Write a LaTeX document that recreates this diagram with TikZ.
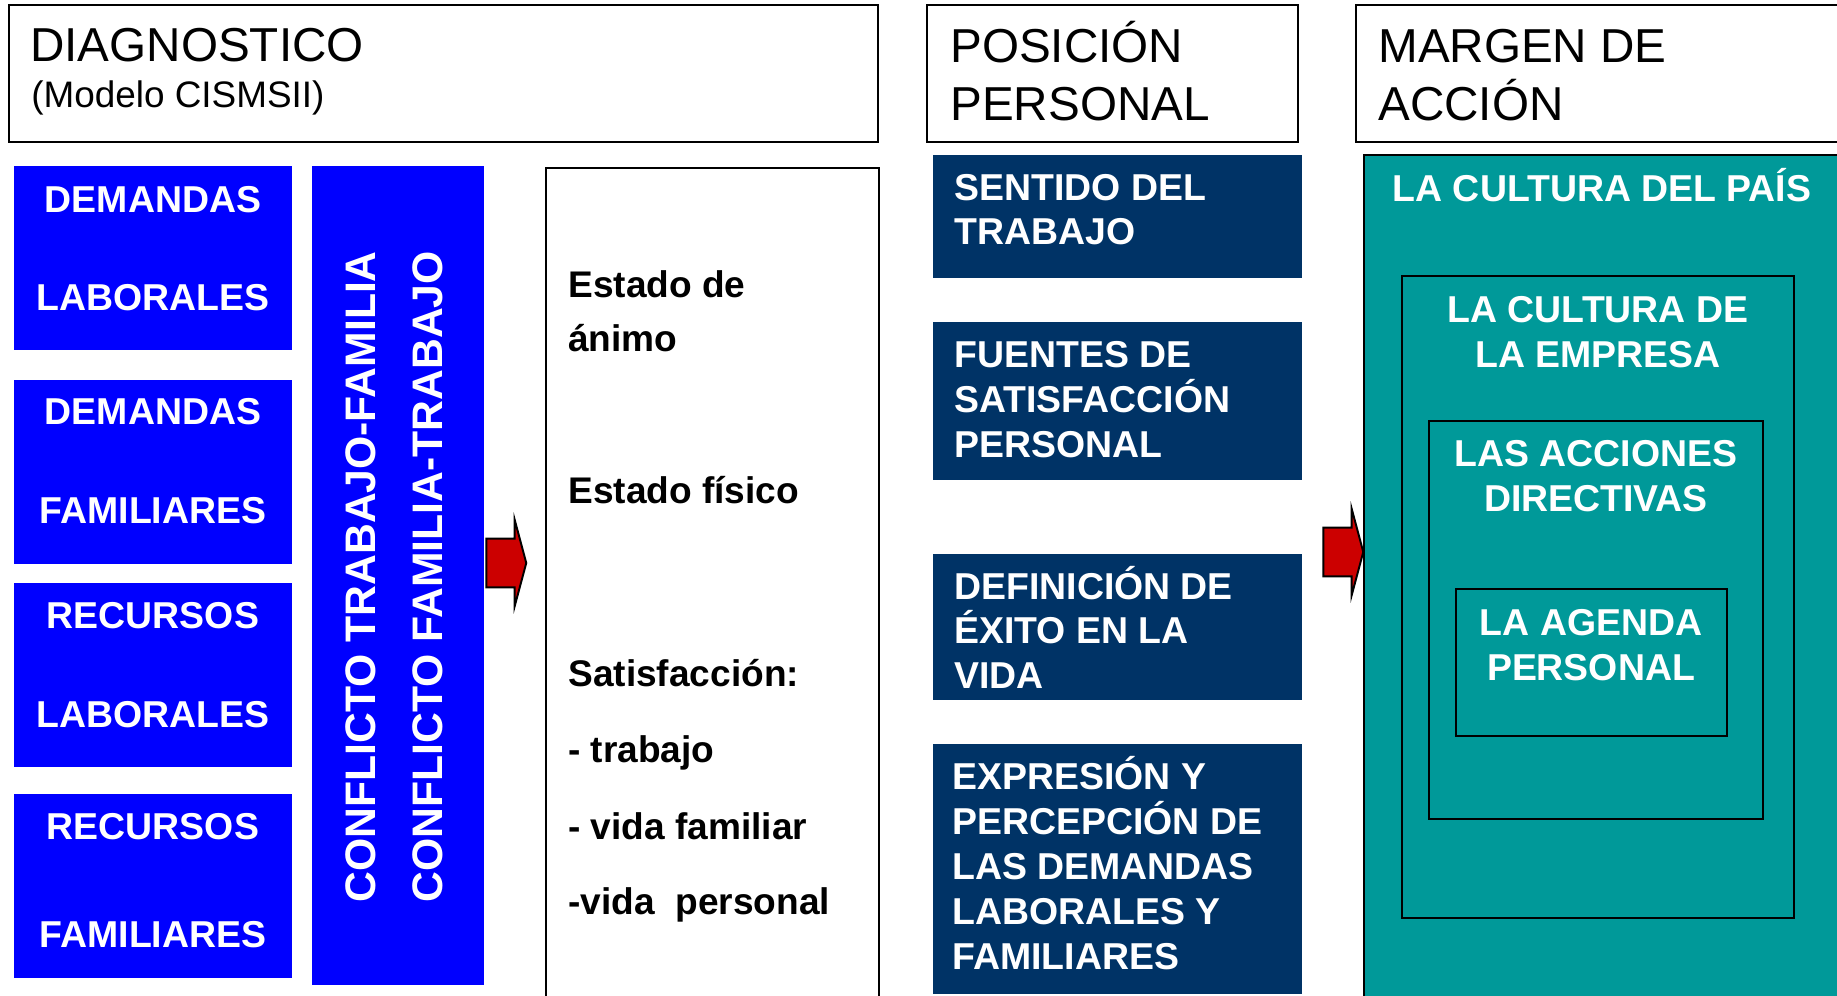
\documentclass[tikz,border=0pt]{standalone}
\usepackage{fontspec}
\setmainfont{Liberation Sans}
\usetikzlibrary{fit,shapes.arrows}
\definecolor{navy}{RGB}{0,51,102}
\definecolor{tealbg}{RGB}{0,153,153}
\definecolor{arrred}{RGB}{204,0,0}
\begin{document}
\begin{tikzpicture}[x=0.02cm, y=-0.02cm,
  head/.style = {draw, line width=1pt, inner sep=0},
  hd/.style = {font=\fontsize{27.1}{32}\selectfont, anchor=base west, inner sep=0},
  sub/.style = {font=\fontsize{21}{25}\selectfont, anchor=base west, inner sep=0},
  bluebox/.style = {fill=blue, inner sep=0},
  navybox/.style = {fill=navy, inner sep=0},
  frame/.style = {draw, line width=1pt, inner sep=0},
  wt/.style = {text=white, font=\bfseries\fontsize{21.3}{25}\selectfont, inner sep=0},
  bt/.style = {font=\bfseries\fontsize{21.1}{25}\selectfont, anchor=base west, inner sep=0},
  conf/.style = {text=white, font=\bfseries\fontsize{24.3}{29}\selectfont, rotate=90, anchor=base west, inner sep=0},
  bigarrow/.style = {shape=single arrow, fill=arrred, draw=black, line width=1.1pt, inner xsep=0, inner ysep=0.47cm,
    minimum height=0.8cm, single arrow head extend=0.38cm, single arrow tip angle=150}]
\clip (0,0) rectangle (1837,996);
\useasboundingbox (0,0) rectangle (1837,996);

% headers
\node[head, fit={(9,5) (878,142)}] (diag) {};
\node[head, fit={(927,5) (1298,142)}] (pos) {};
\node[head, fit={(1356,5) (1850,142)}] (marg) {};
\node[hd] (diag1) at (30,62) {DIAGNOSTICO};
\node[sub] (diag2) at (31,108) {(Modelo CISMSII)};
\node[hd] (pos1) at (950,63) {POSICIÓN};
\node[hd] (pos2) at (950,121) {PERSONAL};
\node[hd] (marg1) at (1378,63) {MARGEN DE};
\node[hd] (marg2) at (1378,121) {ACCIÓN};

% column 1: demandas y recursos
\node[bluebox, fit={(14,166) (292,350)}] (dl) {};
\node[bluebox, fit={(14,380) (292,564)}] (df) {};
\node[bluebox, fit={(14,583) (292,767)}] (rl) {};
\node[bluebox, fit={(14,794) (292,978)}] (rf) {};
\node[wt, anchor=base] (dl1) at (153,213) {DEMANDAS};
\node[wt, anchor=base] (dl2) at (153,311) {LABORALES};
\node[wt, anchor=base] (df1) at (153,425) {DEMANDAS};
\node[wt, anchor=base] (df2) at (153,524) {FAMILIARES};
\node[wt, anchor=base] (rl1) at (153,629) {RECURSOS};
\node[wt, anchor=base] (rl2) at (153,728) {LABORALES};
\node[wt, anchor=base] (rf1) at (153,840) {RECURSOS};
\node[wt, anchor=base] (rf2) at (153,947) {FAMILIARES};

% conflicto
\node[bluebox, fit={(312,166) (484,985)}] (cf) {};
\node[conf] (cf1) at (375,903) {CONFLICTO TRABAJO-FAMILIA};
\node[conf] (cf2) at (442,903) {CONFLICTO FAMILIA-TRABAJO};

\node[bigarrow] (arr1) at (503,563) {};

% estado
\node[frame, fit={(546,168) (879,1010)}] (est) {};
\node[bt] (est1) at (568,298) {Estado de};
\node[bt] (est2) at (568,352) {ánimo};
\node[bt] (est3) at (568,504) {Estado físico};
\node[bt] (est4) at (568,687) {Satisfacción:};
\node[bt] (est5) at (568,763) {- trabajo};
\node[bt] (est6) at (568,839) {- vida familiar};
\node[bt] (est7) at (568,914) {-vida\ \ personal};

% posicion personal
\node[navybox, fit={(933,155) (1302,278)}] (st) {};
\node[navybox, fit={(933,322) (1302,480)}] (fs) {};
\node[navybox, fit={(933,554) (1302,700)}] (de) {};
\node[navybox, fit={(933,744) (1302,994)}] (ep) {};
\node[wt, anchor=base west] (st1) at (954,201) {SENTIDO DEL};
\node[wt, anchor=base west] (st2) at (954,245) {TRABAJO};
\node[wt, anchor=base west] (fs1) at (954,368) {FUENTES DE};
\node[wt, anchor=base west] (fs2) at (954,413) {SATISFACCIÓN};
\node[wt, anchor=base west] (fs3) at (954,458) {PERSONAL};
\node[wt, anchor=base west] (de1) at (954,600) {DEFINICIÓN DE};
\node[wt, anchor=base west] (de2) at (954,644) {ÉXITO EN LA};
\node[wt, anchor=base west] (de3) at (954,689) {VIDA};
\node[wt, anchor=base west] (ep1) at (952,789) {EXPRESIÓN Y};
\node[wt, anchor=base west] (ep2) at (952,834) {PERCEPCIÓN DE};
\node[wt, anchor=base west] (ep3) at (952,879) {LAS DEMANDAS};
\node[wt, anchor=base west] (ep4) at (952,924) {LABORALES Y};
\node[wt, anchor=base west] (ep5) at (952,969) {FAMILIARES};

\node[bigarrow] (arr2) at (1340,552) {};

% margen de accion
\node[fill=tealbg, draw=black, line width=0.6pt, inner sep=0, fit={(1364,155) (1850,1010)}] (pais) {};
\node[frame, fit={(1402,276) (1794,918)}] (emp) {};
\node[frame, fit={(1429,421) (1763,819)}] (acc) {};
\node[frame, fit={(1456,589) (1727,736)}] (age) {};
\node[wt, anchor=base] (pais1) at (1602,202) {LA CULTURA DEL PAÍS};
\node[wt, anchor=base] (emp1) at (1598,323) {LA CULTURA DE};
\node[wt, anchor=base] (emp2) at (1598,368) {LA EMPRESA};
\node[wt, anchor=base] (acc1) at (1596,467) {LAS ACCIONES};
\node[wt, anchor=base] (acc2) at (1596,512) {DIRECTIVAS};
\node[wt, anchor=base] (age1) at (1591,636) {LA AGENDA};
\node[wt, anchor=base] (age2) at (1591,681) {PERSONAL};
\end{tikzpicture}
\end{document}
